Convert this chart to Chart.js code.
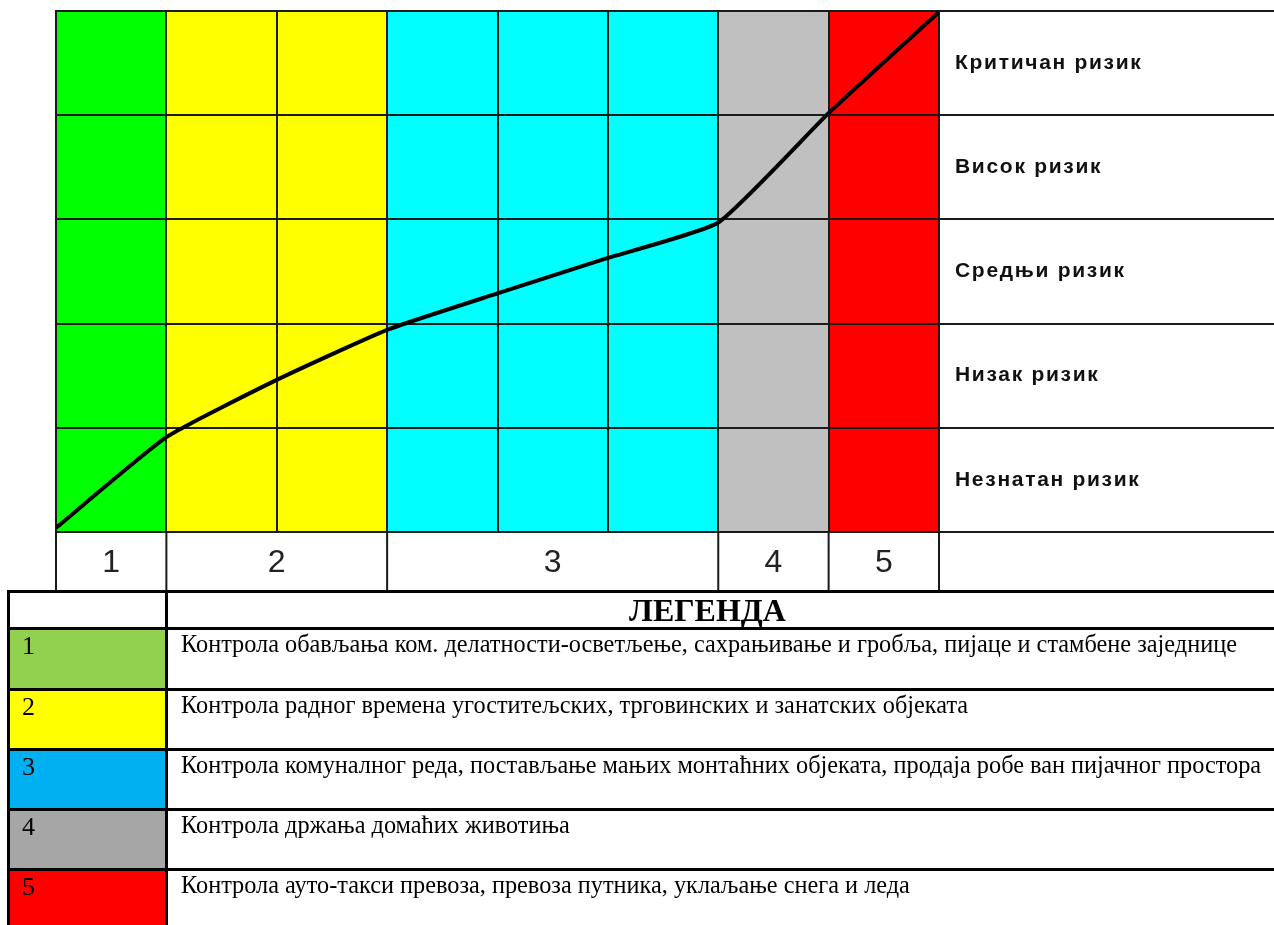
<!DOCTYPE html>
<html>
<head>
<meta charset="utf-8">
<script src="https://cdn.jsdelivr.net/npm/chart.js@4.4.1/dist/chart.umd.min.js"></script>
<style>
  body { margin: 0; background: #fff; overflow: hidden; width: 1274px; height: 925px; position: relative; }
  #risk-chart { position: absolute; left: 0; top: 0; }
  #legend { position: absolute; left: 7px; top: 590px; width: 1300px; font-family: "Liberation Serif", "Times New Roman", serif; }
  .row { display: flex; border-top: 3px solid #000; box-sizing: border-box; }
  .num { width: 158px; box-sizing: border-box; border-left: 3px solid #000; font-size: 26px; padding: 3px 0 0 12px; line-height: 1; }
  .txt { flex: 1; border-left: 3px solid #000; font-size: 24.3px; padding: 2px 0 0 13px; line-height: 1; }
  .head .txt { text-align: center; font-weight: bold; font-size: 32px; padding: 1px 60px 0 0; }
</style>
</head>
<body>
<canvas id="risk-chart" width="1274" height="592"></canvas>
<div id="legend"></div>
<script>
let riskLabels = ["Незнатан ризик", "Низак ризик", "Средњи ризик", "Висок ризик", "Критичан ризик"];
let groupLabels = ["1", "2", "3", "4", "5"];
let groupSpans = [1, 2, 3, 1, 1];
let groupColors = ["#00ff00", "#ffff00", "#00ffff", "#c0c0c0", "#ff0000"];
let steps = [0, 1, 2, 3, 4, 5, 6, 7, 8];
let riskCurve = [0.04, 0.91, 1.46, 1.94, 2.29, 2.63, 2.97, 4.02, 4.99];

let legendTitle = "ЛЕГЕНДА";
let legendColors = ["#92d050", "#ffff00", "#00b0f0", "#a6a6a6", "#ff0000"];
let legendTexts = [
    "Контрола обављања ком. делатности-осветљење, сахрањивање и гробља, пијаце и стамбене заједнице",
    "Контрола радног времена угоститељских, трговинских и занатских објеката",
    "Контрола комуналног реда, постављање мањих монтаћних објеката, продаја робе ван пијачног простора",
    "Контрола држања домаћих животиња",
    "Контрола ауто-такси превоза, превоза путника, уклаљање снега и леда",
];

// colored columns under the grid
let bandsPlugin = {
    id: "bands",
    beforeDraw(chart) {
        let { ctx, chartArea, scales } = chart;
        let start = 0;
        ctx.save();
        groupSpans.forEach((span, i) => {
            let x0 = scales.x.getPixelForValue(start);
            let x1 = scales.x.getPixelForValue(start + span);
            ctx.fillStyle = groupColors[i];
            ctx.fillRect(x0, chartArea.top, x1 - x0, chartArea.bottom - chartArea.top);
            start += span;
        });
        ctx.restore();
    },
    afterDraw(chart) {
        let { ctx, chartArea, scales, width } = chart;
        let rowH = 58;
        ctx.save();
        ctx.strokeStyle = "#1a1a1a";
        ctx.lineWidth = 2;
        // horizontal lines running into the label column
        for (let v = 0; v <= riskLabels.length; v++) {
            let y = Math.round(scales.y.getPixelForValue(v));
            ctx.beginPath();
            ctx.moveTo(chartArea.right, y);
            ctx.lineTo(width, y);
            ctx.stroke();
        }
        // risk labels
        ctx.fillStyle = "#111";
        ctx.font = 'bold 21px "Liberation Sans", Arial, sans-serif';
        ctx.letterSpacing = "1.7px";
        ctx.textAlign = "left";
        ctx.textBaseline = "middle";
        riskLabels.forEach((lbl, i) => {
            ctx.fillText(lbl, chartArea.right + 16, scales.y.getPixelForValue(i + 0.5));
        });
        ctx.letterSpacing = "0px";
        // group number row
        let start = 0;
        let bottom = chartArea.bottom;
        ctx.font = '32px "Liberation Sans", Arial, sans-serif';
        ctx.fillStyle = "#222";
        ctx.textAlign = "center";
        ctx.beginPath();
        ctx.moveTo(chartArea.left, bottom);
        ctx.lineTo(chartArea.left, bottom + rowH);
        groupSpans.forEach((span, i) => {
            let x0 = scales.x.getPixelForValue(start);
            let x1 = scales.x.getPixelForValue(start + span);
            ctx.moveTo(x1, bottom);
            ctx.lineTo(x1, bottom + rowH);
            ctx.fillText(groupLabels[i], (x0 + x1) / 2, bottom + rowH / 2 + 2);
            start += span;
        });
        ctx.stroke();
        ctx.restore();
    },
};

let riskChart = new Chart(document.getElementById("risk-chart").getContext("2d"), {
    type: "line",
    data: {
        datasets: [{
            label: "Ризик",
            data: steps.map((s, i) => ({ x: s, y: riskCurve[i] })),
            borderColor: "#000",
            borderWidth: 4,
            pointRadius: 0,
            tension: 0.15,
            fill: false,
        }],
    },
    options: {
        responsive: false,
        animation: false,
        devicePixelRatio: 1,
        layout: { padding: { left: 56, top: 11, right: 335, bottom: 60 } },
        plugins: { legend: { display: false }, tooltip: { enabled: false } },
        scales: {
            x: {
                type: "linear",
                min: 0,
                max: 8,
                ticks: { display: false, stepSize: 1 },
                grid: { color: "#1a1a1a", lineWidth: 2, drawTicks: false },
                border: { color: "#1a1a1a", width: 2 },
                afterFit(s) { s.height = 0; },
            },
            y: {
                min: 0,
                max: 5,
                ticks: { display: false, stepSize: 1 },
                grid: { color: "#1a1a1a", lineWidth: 2, drawTicks: false },
                border: { color: "#1a1a1a", width: 2 },
                afterFit(s) { s.width = 0; },
            },
        },
    },
    plugins: [bandsPlugin],
});

// legend table below the chart
let legend = document.getElementById("legend");
let head = document.createElement("div");
head.className = "row head";
head.style.height = "37px";
head.innerHTML = '<div class="num"></div><div class="txt">' + legendTitle + "</div>";
legend.appendChild(head);
legendTexts.forEach((t, i) => {
    let row = document.createElement("div");
    row.className = "row";
    row.style.height = (i === 0 ? 61 : 60) + "px";
    let num = document.createElement("div");
    num.className = "num";
    num.style.background = legendColors[i];
    num.textContent = groupLabels[i];
    let txt = document.createElement("div");
    txt.className = "txt";
    txt.textContent = t;
    row.appendChild(num);
    row.appendChild(txt);
    legend.appendChild(row);
});
</script>
</body>
</html>
